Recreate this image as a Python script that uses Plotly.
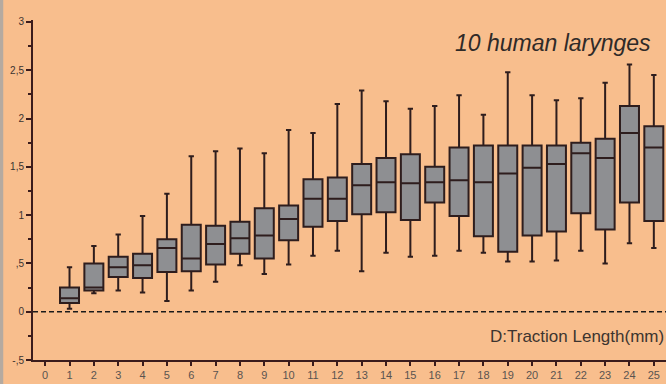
"""Box plot of vocal fold length against traction length (10 human larynges)."""

import plotly.graph_objects as go

# traction length positions (mm)
traction = list(range(1, 26))

# box statistics (mm)
upper_whisker = [0.46, 0.68, 0.80, 0.99, 1.22, 1.61, 1.66, 1.69, 1.64, 1.88,
                 1.85, 2.15, 2.29, 2.18, 2.10, 2.13, 2.24, 2.04, 2.48, 2.24,
                 2.19, 2.21, 2.37, 2.56, 2.45]
q3 = [0.25, 0.50, 0.57, 0.60, 0.75, 0.90, 0.89, 0.93, 1.07, 1.10,
      1.37, 1.39, 1.53, 1.59, 1.63, 1.50, 1.70, 1.72, 1.72, 1.72,
      1.72, 1.75, 1.79, 2.13, 1.92]
median = [0.14, 0.25, 0.46, 0.48, 0.66, 0.55, 0.70, 0.76, 0.79, 0.96,
          1.17, 1.17, 1.31, 1.34, 1.33, 1.34, 1.36, 1.34, 1.43, 1.49,
          1.53, 1.64, 1.59, 1.85, 1.70]
q1 = [0.09, 0.22, 0.36, 0.35, 0.41, 0.42, 0.49, 0.60, 0.55, 0.74,
      0.88, 0.94, 1.01, 1.03, 0.95, 1.13, 0.99, 0.78, 0.62, 0.79,
      0.83, 1.02, 0.85, 1.13, 0.94]
lower_whisker = [0.03, 0.19, 0.22, 0.20, 0.11, 0.22, 0.31, 0.48, 0.39, 0.49,
                 0.58, 0.63, 0.42, 0.61, 0.57, 0.58, 0.63, 0.61, 0.52, 0.52,
                 0.53, 0.63, 0.50, 0.71, 0.66]

x_ticks = list(range(0, 26))
y_ticks = [-0.5, 0, 0.5, 1, 1.5, 2, 2.5, 3]
y_tick_text = ["-,5", "0", ",5", "1", "1,5", "2", "2,5", "3"]
y_minor = [-0.25, 0.25, 0.75, 1.25, 1.75, 2.25, 2.75]

BG = "#F8BE8D"
AXIS = "#3b1c1c"
FONT = "Liberation Sans, Arial, sans-serif"

fig = go.Figure()

fig.add_trace(go.Box(
    x=traction,
    q1=q1,
    median=median,
    q3=q3,
    lowerfence=lower_whisker,
    upperfence=upper_whisker,
    boxpoints=False,
    width=0.78,
    whiskerwidth=0.28,
    fillcolor="#8e8f92",
    line={"color": "#2e1d1d", "width": 2},
    hoverinfo="skip",
    showlegend=False,
))

# y-axis caption, drawn as a text trace above the top of the axis
fig.add_trace(go.Scatter(
    x=[0.12],
    y=[3.17],
    mode="text",
    text=["Vocal Fold<br>length(mm)"],
    textposition="bottom right",
    textfont={"family": FONT, "size": 16, "color": "#3e332c"},
    cliponaxis=False,
    hoverinfo="skip",
    showlegend=False,
))

# dashed reference line at zero
fig.add_shape(
    type="line", xref="paper", yref="y",
    x0=0, x1=1, y0=0, y1=0,
    line={"color": "#1a1a1a", "width": 1.5, "dash": "5px,3px"},
    layer="below",
)

# thin grey frame strip on the left edge
fig.add_shape(
    type="rect", xref="paper", yref="paper",
    x0=-0.0525, x1=-0.047, y0=-0.08, y1=1.08,
    fillcolor="#b5aaa0", line={"width": 0},
)

fig.add_annotation(
    text="<i>10 human larynges</i>",
    x=0.822, y=0.931, xref="paper", yref="paper",
    xanchor="center", yanchor="middle",
    showarrow=False,
    font={"family": FONT, "size": 23, "color": "#2f2a28"},
)
fig.add_annotation(
    text="D:Traction Length(mm)",
    x=1.0, y=0.07, xref="paper", yref="paper",
    xanchor="right", yanchor="middle",
    showarrow=False,
    font={"family": FONT, "size": 17, "color": "#3d3530"},
)

fig.update_layout(
    width=666,
    height=384,
    margin={"t": 20, "b": 24, "l": 33, "r": 0, "pad": 0},
    paper_bgcolor=BG,
    plot_bgcolor=BG,
    font={"family": FONT},
    xaxis={
        "range": [-0.5, 25.5],
        "tickvals": x_ticks,
        "ticks": "outside",
        "ticklen": 4,
        "tickwidth": 1.5,
        "tickcolor": AXIS,
        "showline": True,
        "linecolor": AXIS,
        "linewidth": 2,
        "showgrid": False,
        "zeroline": False,
        "ticklabeloverflow": "allow",
        "tickfont": {"size": 11, "color": "#5a5450"},
    },
    yaxis={
        "range": [-0.5, 3.02],
        "tickvals": y_ticks,
        "ticktext": y_tick_text,
        "ticks": "outside",
        "ticklen": 5,
        "tickwidth": 1.5,
        "tickcolor": AXIS,
        "showline": True,
        "linecolor": AXIS,
        "linewidth": 2,
        "showgrid": False,
        "zeroline": False,
        "ticklabeloverflow": "allow",
        "tickfont": {"size": 10, "color": "#3a3330"},
        "minor": {"tickvals": y_minor, "ticks": "outside", "ticklen": 3,
                  "tickcolor": AXIS, "showgrid": False},
    },
)

# drop the default body margin so the figure fills the window exactly
fig.write_html(
    "out.html",
    config={"displayModeBar": False},
    post_script="document.body.style.margin='0';",
)
